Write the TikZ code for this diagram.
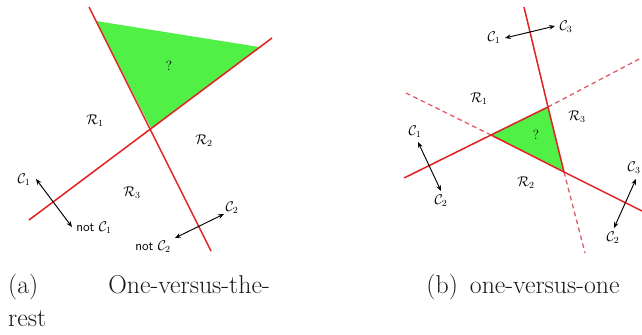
\documentclass[tikz,border=0pt]{standalone}
\usepackage{amssymb}
\usepackage{tikz}
\usetikzlibrary{arrows.meta}

\definecolor{boundred}{RGB}{221,35,35}
\definecolor{dashred}{RGB}{222,90,100}
\definecolor{amb}{RGB}{80,240,70}
\definecolor{captext}{RGB}{25,25,25}

\tikzset{
  bound/.style={boundred, line width=1.3pt},
  weak/.style={dashred, line width=1.1pt, dashed, dash pattern=on 4pt off 3pt},
  dir/.style={{Stealth[length=5pt,width=4pt]}-{Stealth[length=5pt,width=4pt]}, line width=0.8pt},
  lab/.style={font=\fontsize{11.5}{13}\selectfont, inner sep=1pt},
  captxt/.style={font=\fontsize{22}{26}\selectfont, text=captext, inner sep=0pt}
}

\begin{document}
\begin{tikzpicture}[x=0.03cm, y=-0.03cm]
\useasboundingbox (0,0) rectangle (642,334);
\clip (0,0) rectangle (642,334);
% Figure (a): one-versus-the-rest
\begin{scope}
  \coordinate (aTop) at (89,7);
  \coordinate (aBot) at (211,251);
  \coordinate (bLeft) at (29,220);
  \coordinate (bRight) at (272,38);
  \coordinate (mid) at (151,128);
  \coordinate (gA) at (96,21);
  \coordinate (gB) at (259,47);
  % ambiguous region
  \fill[amb] (gA) -- (gB) -- (mid) -- cycle;
  \draw[bound] (aTop) -- (aBot);
  \draw[bound] (bLeft) -- (bRight);
  % labels
  \node[lab] (qa) at (169,66) {?};
  \node[lab] (ra1) at (95,121) {$\mathcal{R}_1$};
  \node[lab] (ra2) at (204,141) {$\mathcal{R}_2$};
  \node[lab] (ra3) at (132,193) {$\mathcal{R}_3$};
  % class directions
  \node[lab] (c1) at (24,180) {$\mathcal{C}_1$};
  \node[lab] (nc1) at (94,228) {\textsf{not} $\mathcal{C}_1$};
  \coordinate (c1s) at (36,179);
  \coordinate (c1e) at (72,227);
  \draw[dir] (c1s) -- (c1e);
  \node[lab] (c2) at (232,208) {$\mathcal{C}_2$};
  \node[lab] (nc2) at (153,247) {\textsf{not} $\mathcal{C}_2$};
  \coordinate (c2s) at (175,238);
  \coordinate (c2e) at (224,214);
  \draw[dir] (c2s) -- (c2e);
  % caption
  \node[captxt, anchor=base west] (capa) at (8,293) {(a)};
  \node[captxt, anchor=base east] (capb) at (270,293) {One-versus-the-};
  \node[captxt, anchor=base west] (capc) at (8,326) {rest};
\end{scope}
% Figure (b): one-versus-one
\begin{scope}
  \coordinate (v1) at (491,135);
  \coordinate (v2) at (548,107);
  \coordinate (v3) at (564,172);
  \coordinate (l1a) at (524,7);
  \coordinate (l1b) at (585,253);
  \coordinate (l2a) at (404,178);
  \coordinate (l2b) at (662,47);
  \coordinate (l3a) at (406,93);
  \coordinate (l3b) at (662,221);
  % ambiguous region
  \fill[amb] (v1) -- (v2) -- (v3) -- cycle;
  \draw[weak] (v3) -- (l1b);
  \draw[weak] (v2) -- (l2b);
  \draw[weak] (l3a) -- (v1);
  \draw[bound] (l1a) -- (v2) -- (v3);
  \draw[bound] (l2a) -- (v1) -- (v2);
  \draw[bound] (v1) -- (v3) -- (l3b);
  % labels
  \node[lab] (qb) at (536,135) {?};
  \node[lab] (rb1) at (479,99) {$\mathcal{R}_1$};
  \node[lab] (rb2) at (526,183) {$\mathcal{R}_2$};
  \node[lab] (rb3) at (577,117) {$\mathcal{R}_3$};
  % pairwise directions
  \node[lab] (t1) at (494,38) {$\mathcal{C}_1$};
  \node[lab] (t3) at (566,27) {$\mathcal{C}_3$};
  \coordinate (ts) at (505,38);
  \coordinate (te) at (555,26);
  \draw[dir] (ts) -- (te);
  \node[lab] (l1) at (415,132) {$\mathcal{C}_1$};
  \node[lab] (l2) at (441,201) {$\mathcal{C}_2$};
  \coordinate (ls) at (418,142);
  \coordinate (le) at (441,191);
  \draw[dir] (ls) -- (le);
  \node[lab, anchor=east] (r3) at (642,168) {$\mathcal{C}_3$};
  \node[lab] (r2) at (613,238) {$\mathcal{C}_2$};
  \coordinate (rs) at (636,179);
  \coordinate (re) at (614,228);
  \draw[dir] (rs) -- (re);
  % caption
  \node[captxt, anchor=base] (capd) at (523,293) {(b)\, one-versus-one};
\end{scope}
\end{tikzpicture}
\end{document}
